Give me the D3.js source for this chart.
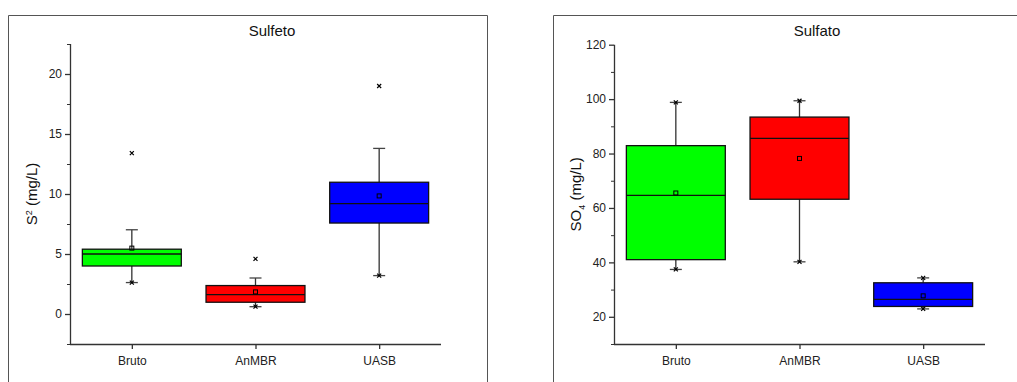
<!DOCTYPE html>
<html><head><meta charset="utf-8">
<script src="https://cdn.jsdelivr.net/npm/d3@7"></script>
<style>body{margin:0;background:#fff}svg{display:block;font-family:Arial,"Liberation Sans",sans-serif}</style>
</head><body><svg id="c" width="1017" height="382"></svg>
<script>
const categories = ["Bruto","AnMBR","UASB"];
const colors = ["#00ff00","#ff0000","#0000ff"];
// Sulfeto (S2-) stats
const sulfetoQ1 = [4.0, 0.98, 7.58];
const sulfetoMed = [5.0, 1.61, 9.2];
const sulfetoQ3 = [5.4, 2.37, 10.98];
const sulfetoWLo = [2.62, 0.61, 3.2];
const sulfetoWHi = [7.02, 3.0, 13.8];
const sulfetoMean = [5.49, 1.84, 9.84];
const sulfetoMin = [2.62, 0.61, 3.2];
const sulfetoMax = [13.4, 4.6, 19.0];
const sulfetoTicks = [0,5,10,15,20];
// Sulfato (SO4) stats
const sulfatoQ1 = [41.0, 63.2, 23.8];
const sulfatoMed = [64.6, 85.6, 26.4];
const sulfatoQ3 = [82.9, 93.4, 32.5];
const sulfatoWLo = [37.4, 40.2, 22.9];
const sulfatoWHi = [98.8, 99.4, 34.3];
const sulfatoMean = [65.5, 78.2, 27.7];
const sulfatoMin = [37.4, 40.2, 22.9];
const sulfatoMax = [98.8, 99.4, 34.3];
const sulfatoTicks = [20,40,60,80,100,120];

const svg = d3.select("#c");

function panel(cfg){
  const g = svg.append("g");
  g.append("path").attr("d", cfg.frame).attr("fill","none").attr("stroke","#555").attr("stroke-width",1);
  const x = d3.scalePoint().domain(categories).range([cfg.x0, cfg.x1]).padding(0.5);
  const y = d3.scaleLinear().domain(cfg.domain).range([cfg.y1, cfg.y0]);
  const bw = x.step()*0.8;
  const ya = g.append("g").attr("transform",`translate(${cfg.x0},0)`)
    .call(d3.axisLeft(y).tickValues(cfg.ticks).tickSize(5).tickPadding(3));
  const minor = d3.range(cfg.domain[0], cfg.domain[1]+1e-9, cfg.minor).filter(v=>!cfg.ticks.some(t=>Math.abs(t-v)<1e-9));
  g.append("g").attr("transform",`translate(${cfg.x0},0)`)
    .call(d3.axisLeft(y).tickValues(minor).tickSize(3).tickFormat(""))
    .call(s=>s.select(".domain").remove());
  const xa = g.append("g").attr("transform",`translate(0,${cfg.y1})`)
    .call(d3.axisBottom(x).tickSize(5).tickPadding(7).tickSizeOuter(0));
  xa.select(".domain").attr("d",`M${cfg.x0},0.5H${cfg.x1}`);
  [ya,xa].forEach(a=>{
    a.selectAll("path,line").attr("stroke","#333").attr("stroke-width",1.3);
    a.selectAll("text").attr("font-size",12).attr("fill","#222");
  });
  ya.select(".domain").attr("d",`M0.5,${cfg.y0}V${cfg.y1}`);
  g.selectAll("g.tick line").attr("stroke","#333");
  g.append("text").attr("x",cfg.titleX).attr("y",35.5).attr("text-anchor","middle")
    .attr("font-size",15).attr("fill","#111").text(cfg.title);
  const yl = g.append("text").attr("transform",`translate(${cfg.ylX},${(cfg.y0+cfg.y1)/2}) rotate(-90)`)
    .attr("text-anchor","middle").attr("font-size",15).attr("fill","#111");
  cfg.ylabel(yl);
  const s = cfg.stats;
  categories.forEach((c,i)=>{
    const cx = x(c);
    g.append("line").attr("x1",cx).attr("x2",cx).attr("y1",y(s.q3[i])).attr("y2",y(s.whi[i])).attr("stroke","#333").attr("stroke-width",1.3);
    g.append("line").attr("x1",cx).attr("x2",cx).attr("y1",y(s.q1[i])).attr("y2",y(s.wlo[i])).attr("stroke","#333").attr("stroke-width",1.3);
    [s.whi[i], s.wlo[i]].forEach(v=>{
      g.append("line").attr("x1",cx-6).attr("x2",cx+6).attr("y1",y(v)).attr("y2",y(v)).attr("stroke","#444").attr("stroke-width",1.3);
    });
    g.append("rect").attr("x",cx-bw/2).attr("y",y(s.q3[i])).attr("width",bw).attr("height",y(s.q1[i])-y(s.q3[i]))
      .attr("fill",colors[i]).attr("stroke","#111").attr("stroke-width",1.3);
    g.append("line").attr("x1",cx-bw/2).attr("x2",cx+bw/2).attr("y1",y(s.med[i])).attr("y2",y(s.med[i])).attr("stroke","#111").attr("stroke-width",1.3);
    g.append("rect").attr("x",cx-2).attr("y",y(s.mean[i])-2).attr("width",4).attr("height",4).attr("fill","none").attr("stroke","#000").attr("stroke-width",1);
    [s.min[i], s.max[i]].forEach(v=>{
      const yy = y(v);
      g.append("path").attr("d",`M${cx-2},${yy-2}L${cx+2},${yy+2}M${cx-2},${yy+2}L${cx+2},${yy-2}`).attr("stroke","#000").attr("stroke-width",1.2);
    });
  });
}

panel({
  frame:"M8.5,382V15.5H487.5V382",
  x0:70, x1:441, y0:44, y1:344, domain:[-2.5,22.5], ticks:sulfetoTicks, minor:2.5,
  title:"Sulfeto", titleX:272, ylX:37,
  ylabel: t=>{ t.append("tspan").text("S"); t.append("tspan").attr("font-size",9).attr("dy",-5).text("2"); t.append("tspan").attr("dy",5).text(" (mg/L)"); },
  stats:{q1:sulfetoQ1, med:sulfetoMed, q3:sulfetoQ3, wlo:sulfetoWLo, whi:sulfetoWHi, mean:sulfetoMean, min:sulfetoMin, max:sulfetoMax}
});
panel({
  frame:"M553.5,382V15.5H1020",
  x0:614, x1:985, y0:44.7, y1:344, domain:[10,120], ticks:sulfatoTicks, minor:10,
  title:"Sulfato", titleX:817, ylX:581,
  ylabel: t=>{ t.append("tspan").text("SO"); t.append("tspan").attr("font-size",9).attr("dy",4).text("4"); t.append("tspan").attr("dy",-4).text(" (mg/L)"); },
  stats:{q1:sulfatoQ1, med:sulfatoMed, q3:sulfatoQ3, wlo:sulfatoWLo, whi:sulfatoWHi, mean:sulfatoMean, min:sulfatoMin, max:sulfatoMax}
});
</script></body></html>
